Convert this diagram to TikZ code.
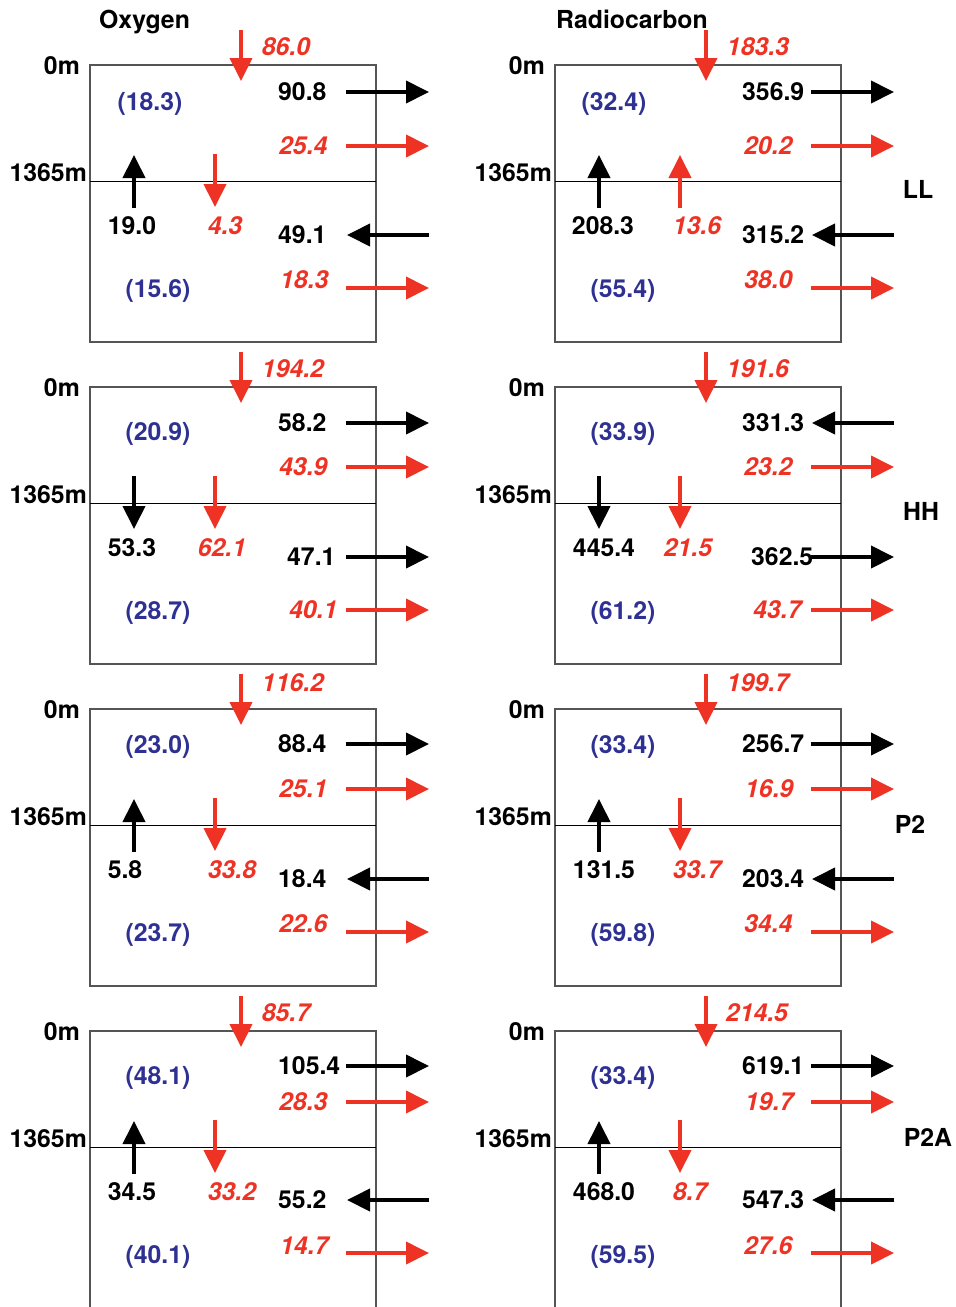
\documentclass[tikz,border=0pt]{standalone}
\usepackage{fontspec}
\setmainfont{TeX Gyre Heros}
\usetikzlibrary{arrows.meta}
\definecolor{fred}{RGB}{238,51,36}
\definecolor{fblue}{RGB}{46,49,146}
\definecolor{boxgray}{RGB}{85,85,85}
\tikzset{
  lbl/.style={inner sep=0pt, text height=17pt, text depth=0pt, font=\fontsize{24.8}{29}\selectfont\bfseries},
  blk/.style={lbl, text=black},
  rd/.style={lbl, text=fred, font=\fontsize{24.8}{29}\selectfont\bfseries\itshape},
  bl/.style={lbl, text=fblue},
  arr/.style={line width=4pt, -{Triangle[length=23pt,width=22pt]}},
  barr/.style={arr, draw=black},
  rarr/.style={arr, draw=fred},
  boxline/.style={draw=boxgray, line width=1.2pt},
  midline/.style={draw=black, line width=1pt},
}
% horizontal arrow: name, x tail, x tip, y, style
\newcommand\harr[5]{\coordinate (#1t) at (#2,#4); \coordinate (#1h) at (#3,#4); \draw[#5] (#1t) -- (#1h);}
% vertical arrow: name, x, y tail, y tip, style
\newcommand\varr[5]{\coordinate (#1t) at (#2,#3); \coordinate (#1h) at (#2,#4); \draw[#5] (#1t) -- (#1h);}
% panel: prefix, x0, y0, top label, top label x, top label y, content
\newcommand\panel[7]{%
  \begin{scope}[shift={(#2,#3)}]
    \draw[boxline] (0,0) rectangle (286,277);
    \draw[midline] (0,116) -- (286,116);
    \node[blk, anchor=east] (#1-d0) at (-10,1) {0m};
    \node[blk, anchor=east] (#1-d1) at (-3,108) {1365m};
    \varr{#1-top}{151}{-35}{16}{rarr}
    \node[rd] (#1-topl) at (#5,#6) {#4};
    #7
  \end{scope}}
\begin{document}
\begin{tikzpicture}[x=1pt, y=-1pt]
\useasboundingbox (0,0) rectangle (956,1307);
\node[blk, anchor=west] (hox) at (99,20) {Oxygen};
\node[blk, anchor=west] (hrc) at (556,20) {Radiocarbon};
\node[blk] (sLL) at (918,190) {LL};
\node[blk] (sHH) at (921,512) {HH};
\node[blk] (sP2) at (910,825) {P2};
\node[blk] (sP2A) at (928,1138) {P2A};

% ---------------- Oxygen LL
\panel{A}{90}{65}{86.0}{196}{-18}{
  \node[bl] (A-pu) at (60,37) {(18.3)};
  \node[blk, anchor=west] (A-hu) at (188,27) {90.8}; \harr{A-au}{256}{339}{27}{barr}
  \node[rd, anchor=west] (A-ru) at (189,81) {25.4}; \harr{A-aru}{256}{339}{81}{rarr}
  \varr{A-vb}{44}{143}{90}{barr}
  \varr{A-vr}{125}{89}{142}{rarr}
  \node[blk] (A-vbl) at (42,161) {19.0};
  \node[rd] (A-vrl) at (135,161) {4.3};
  \node[blk, anchor=west] (A-hl) at (188,170) {49.1}; \harr{A-al}{339}{257}{170}{barr}
  \node[bl] (A-pl) at (68,224) {(15.6)};
  \node[rd, anchor=west] (A-rl) at (190,215) {18.3}; \harr{A-arl}{256}{339}{223}{rarr}
}
% ---------------- Oxygen HH
\panel{B}{90}{387}{194.2}{203}{-18}{
  \node[bl] (B-pu) at (68,45) {(20.9)};
  \node[blk, anchor=west] (B-hu) at (188,36) {58.2}; \harr{B-au}{256}{339}{36}{barr}
  \node[rd, anchor=west] (B-ru) at (189,80) {43.9}; \harr{B-aru}{256}{339}{80}{rarr}
  \varr{B-vb}{44}{89}{142}{barr}
  \varr{B-vr}{125}{89}{142}{rarr}
  \node[blk] (B-vbl) at (42,161) {53.3};
  \node[rd] (B-vrl) at (132,161) {62.1};
  \node[blk, anchor=west] (B-hl) at (197,170) {47.1}; \harr{B-al}{256}{339}{170}{barr}
  \node[bl] (B-pl) at (68,224) {(28.7)};
  \node[rd, anchor=west] (B-rl) at (199,223) {40.1}; \harr{B-arl}{256}{339}{223}{rarr}
}
% ---------------- Oxygen P2
\panel{C}{90}{709}{116.2}{203}{-26}{
  \node[bl] (C-pu) at (68,36) {(23.0)};
  \node[blk, anchor=west] (C-hu) at (188,35) {88.4}; \harr{C-au}{256}{339}{35}{barr}
  \node[rd, anchor=west] (C-ru) at (189,80) {25.1}; \harr{C-aru}{256}{339}{80}{rarr}
  \varr{C-vb}{44}{143}{90}{barr}
  \varr{C-vr}{125}{89}{142}{rarr}
  \node[blk] (C-vbl) at (35,161) {5.8};
  \node[rd] (C-vrl) at (142,161) {33.8};
  \node[blk, anchor=west] (C-hl) at (188,170) {18.4}; \harr{C-al}{339}{257}{170}{barr}
  \node[bl] (C-pl) at (68,224) {(23.7)};
  \node[rd, anchor=west] (C-rl) at (189,215) {22.6}; \harr{C-arl}{256}{339}{223}{rarr}
}
% ---------------- Oxygen P2A
\panel{D}{90}{1031}{85.7}{196}{-18}{
  \node[bl] (D-pu) at (68,45) {(48.1)};
  \node[blk, anchor=west] (D-hu) at (188,35) {105.4}; \harr{D-au}{256}{339}{35}{barr}
  \node[rd, anchor=west] (D-ru) at (189,71) {28.3}; \harr{D-aru}{256}{339}{71}{rarr}
  \varr{D-vb}{44}{143}{90}{barr}
  \varr{D-vr}{125}{89}{142}{rarr}
  \node[blk] (D-vbl) at (42,161) {34.5};
  \node[rd] (D-vrl) at (142,161) {33.2};
  \node[blk, anchor=west] (D-hl) at (188,169) {55.2}; \harr{D-al}{339}{257}{169}{barr}
  \node[bl] (D-pl) at (68,224) {(40.1)};
  \node[rd, anchor=west] (D-rl) at (190,215) {14.7}; \harr{D-arl}{256}{339}{222}{rarr}
}
% ---------------- Radiocarbon LL
\panel{E}{555}{65}{183.3}{203}{-18}{
  \node[bl] (E-pu) at (59,37) {(32.4)};
  \node[blk, anchor=west] (E-hu) at (187,27) {356.9}; \harr{E-au}{256}{339}{27}{barr}
  \node[rd, anchor=west] (E-ru) at (189,81) {20.2}; \harr{E-aru}{256}{339}{81}{rarr}
  \varr{E-vb}{44}{143}{90}{barr}
  \varr{E-vr}{125}{143}{90}{rarr}
  \node[blk] (E-vbl) at (48,161) {208.3};
  \node[rd] (E-vrl) at (142,161) {13.6};
  \node[blk, anchor=west] (E-hl) at (187,170) {315.2}; \harr{E-al}{339}{257}{170}{barr}
  \node[bl] (E-pl) at (68,224) {(55.4)};
  \node[rd, anchor=west] (E-rl) at (189,215) {38.0}; \harr{E-arl}{256}{339}{223}{rarr}
}
% ---------------- Radiocarbon HH
\panel{F}{555}{387}{191.6}{203}{-18}{
  \node[bl] (F-pu) at (68,45) {(33.9)};
  \node[blk, anchor=west] (F-hu) at (187,36) {331.3}; \harr{F-au}{339}{257}{36}{barr}
  \node[rd, anchor=west] (F-ru) at (189,80) {23.2}; \harr{F-aru}{256}{339}{80}{rarr}
  \varr{F-vb}{44}{89}{142}{barr}
  \varr{F-vr}{125}{89}{142}{rarr}
  \node[blk] (F-vbl) at (49,161) {445.4};
  \node[rd] (F-vrl) at (133,161) {21.5};
  \node[blk, anchor=west] (F-hl) at (196,170) {362.5}; \harr{F-al}{256}{339}{170}{barr}
  \node[bl] (F-pl) at (68,224) {(61.2)};
  \node[rd, anchor=west] (F-rl) at (198,223) {43.7}; \harr{F-arl}{256}{339}{223}{rarr}
}
% ---------------- Radiocarbon P2
\panel{G}{555}{709}{199.7}{203}{-26}{
  \node[bl] (G-pu) at (68,36) {(33.4)};
  \node[blk, anchor=west] (G-hu) at (187,35) {256.7}; \harr{G-au}{256}{339}{35}{barr}
  \node[rd, anchor=west] (G-ru) at (190,80) {16.9}; \harr{G-aru}{256}{339}{80}{rarr}
  \varr{G-vb}{44}{143}{90}{barr}
  \varr{G-vr}{125}{89}{142}{rarr}
  \node[blk] (G-vbl) at (49,161) {131.5};
  \node[rd] (G-vrl) at (142,161) {33.7};
  \node[blk, anchor=west] (G-hl) at (187,170) {203.4}; \harr{G-al}{339}{257}{170}{barr}
  \node[bl] (G-pl) at (68,224) {(59.8)};
  \node[rd, anchor=west] (G-rl) at (189,215) {34.4}; \harr{G-arl}{256}{339}{223}{rarr}
}
% ---------------- Radiocarbon P2A
\panel{H}{555}{1031}{214.5}{202}{-18}{
  \node[bl] (H-pu) at (68,45) {(33.4)};
  \node[blk, anchor=west] (H-hu) at (187,35) {619.1}; \harr{H-au}{256}{339}{35}{barr}
  \node[rd, anchor=west] (H-ru) at (190,71) {19.7}; \harr{H-aru}{256}{339}{71}{rarr}
  \varr{H-vb}{44}{143}{90}{barr}
  \varr{H-vr}{125}{89}{142}{rarr}
  \node[blk] (H-vbl) at (49,161) {468.0};
  \node[rd] (H-vrl) at (135,161) {8.7};
  \node[blk, anchor=west] (H-hl) at (187,169) {547.3}; \harr{H-al}{339}{257}{169}{barr}
  \node[bl] (H-pl) at (68,224) {(59.5)};
  \node[rd, anchor=west] (H-rl) at (189,215) {27.6}; \harr{H-arl}{256}{339}{222}{rarr}
}
\end{tikzpicture}
\end{document}
